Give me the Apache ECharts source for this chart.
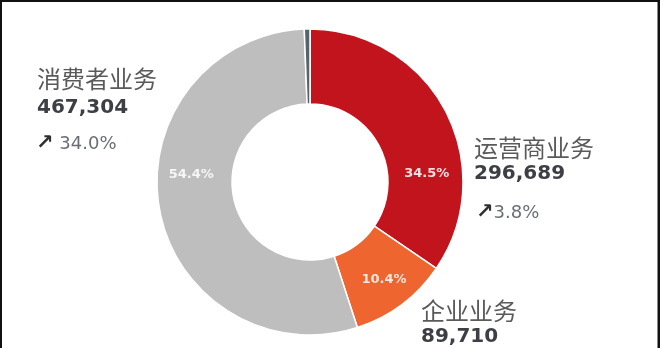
<!DOCTYPE html>
<html>
<head>
<meta charset="utf-8">
<script src="https://cdn.jsdelivr.net/npm/echarts@6/dist/echarts.min.js"></script>
<style>
html,body{margin:0;padding:0;background:#fff;}
#c{width:660px;height:348px;}
</style>
</head>
<body>
<div id="c"></div>
<script>
// ---- data ----
const categories = ['运营商业务', '企业业务', '消费者业务', '其他'];
const revenue = [296689, 89710, 467304, 5130];
const shareLabels = ['34.5%', '10.4%', '54.4%', ''];
const revenueLabels = ['296,689', '89,710', '467,304'];
const growthLabels = ['3.8%', '', '34.0%'];

// ---- styles ----
const colors = ['#c1141d', '#ee6530', '#bebebe', '#56646b'];
const labelOffsets = [[12, 47], [3, 3], [-2, -28], [0, 0]];
const labelColors = ['#f7e3e3', '#fbe6dc', '#f6f6f6', '#fff'];

const chart = echarts.init(document.getElementById('c'), null, {renderer: 'canvas'});

const pieData = categories.map((name, i) => ({
  name: name,
  value: revenue[i],
  itemStyle: {color: colors[i]},
  label: {offset: labelOffsets[i], color: labelColors[i]}
}));

const nameFont = '24px "Noto Sans CJK SC"';
const numFont = 'bold 20px "DejaVu Sans"';
const nameColor = '#5a5a5a';
const numColor = '#3d3f44';

function textEl(x, y, text, font, fill) {
  return {
    type: 'text', x: x, y: y, silent: true,
    style: {text: text, font: font, fill: fill, textAlign: 'left', textVerticalAlign: 'middle', align: 'left', verticalAlign: 'middle'}
  };
}
function growthEl(x, y, text, gap) {
  return {
    type: 'text', x: x, y: y, silent: true,
    style: {
      text: '{a|↗}' + gap + '{b|' + text + '}',
      textAlign: 'left', textVerticalAlign: 'middle', align: 'left', verticalAlign: 'middle',
      rich: {
        a: {font: 'bold 21px "DejaVu Sans"', fill: '#2f2f33', color: '#2f2f33'},
        b: {font: '18px "DejaVu Sans"', fill: '#6a6e74', color: '#6a6e74'}
      },
      font: '18px "DejaVu Sans"', fill: '#6a6e74'
    }
  };
}

chart.setOption({
  backgroundColor: '#fff',
  animation: false,
  series: [{
    type: 'pie',
    center: [310, 182],
    radius: [78, 153],
    startAngle: 90,
    clockwise: true,
    avoidLabelOverlap: false,
    itemStyle: {borderColor: '#fff', borderWidth: 1.5},
    label: {
      show: true,
      position: 'inside',
      formatter: p => shareLabels[p.dataIndex],
      fontFamily: 'DejaVu Sans',
      fontWeight: 'bold',
      fontSize: 13
    },
    labelLine: {show: false},
    emphasis: {disabled: true},
    data: pieData
  }],
  graphic: [
    // frame
    {type: 'rect', shape: {x: 0, y: 0, width: 660, height: 2}, style: {fill: '#111'}, silent: true},
    {type: 'rect', shape: {x: 0, y: 0, width: 2, height: 348}, style: {fill: '#111'}, silent: true},
    {type: 'rect', shape: {x: 657.5, y: 0, width: 2.5, height: 348}, style: {fill: '#111'}, silent: true},
    // 消费者业务
    textEl(37, 79, categories[2], nameFont, nameColor),
    textEl(37, 108, revenueLabels[2], numFont, numColor),
    growthEl(36, 144, growthLabels[2], ' '),
    // 运营商业务
    textEl(474, 148, categories[0], nameFont, nameColor),
    textEl(474, 174, revenueLabels[0], numFont, numColor),
    growthEl(476, 213, growthLabels[0], ''),
    // 企业业务
    textEl(421, 311, categories[1], nameFont, nameColor),
    textEl(421, 337, revenueLabels[1], numFont, numColor)
  ]
});
</script>
</body>
</html>
